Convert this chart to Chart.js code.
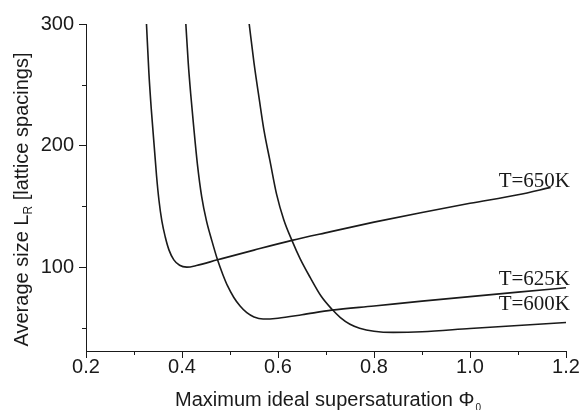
<!DOCTYPE html>
<html>
<head>
<meta charset="utf-8">
<script src="https://cdn.jsdelivr.net/npm/chart.js@4"></script>
<style>
  html, body { margin: 0; padding: 0; background: #fff; }
  #wrap { width: 586px; height: 410px; }
</style>
</head>
<body>
<div id="wrap"><canvas id="lineChart"></canvas></div>
<script>
// data
const phi650 = [0.326, 0.331, 0.336, 0.342, 0.347, 0.352, 0.358, 0.365, 0.373, 0.383, 0.395, 0.410, 0.430, 0.474, 0.550, 0.629, 0.708, 0.800, 0.900, 1.000, 1.100, 1.168];
const size650 = [300, 260, 230, 200, 175, 155, 138, 125, 114, 106, 101.5, 100, 101.3, 106, 114, 122, 129, 137, 145, 152.5, 159.5, 165.6];

const phi625 = [0.408, 0.413, 0.418, 0.424, 0.432, 0.441, 0.451, 0.462, 0.474, 0.485, 0.495, 0.508, 0.521, 0.535, 0.550, 0.569, 0.600, 0.650, 0.712, 0.800, 0.900, 1.000, 1.100, 1.200];
const size625 = [300, 268, 243, 217, 185, 158, 138, 122, 106, 94, 84.5, 75, 68, 62.5, 59, 57.3, 58, 60.8, 64.6, 68, 72, 75.7, 79.4, 83];

const phi600 = [0.540, 0.550, 0.561, 0.571, 0.583, 0.597, 0.612, 0.629, 0.646, 0.667, 0.690, 0.712, 0.730, 0.750, 0.770, 0.800, 0.840, 0.900, 1.000, 1.100, 1.200];
const size600 = [300, 268, 238, 212, 188, 160, 139, 122, 107, 91.5, 76, 65.5, 58.5, 53, 49.8, 47.3, 46.3, 46.8, 49.5, 52, 54.5];

const xMajor = [0.2, 0.4, 0.6, 0.8, 1.0, 1.2];
const xMinor = [0.3, 0.5, 0.7, 0.9, 1.1];
const yMajor = [100, 200, 300];
const yMinor = [50, 150, 250];

const seriesNames = ['T=650K', 'T=625K', 'T=600K'];
// where each curve label sits (data coords: right edge x, baseline y)
const labelX = [1.2, 1.2, 1.2];
const labelY = [166, 85, 64.5];

const ink = '#1a1a1a';
const sans = "'Liberation Sans', Arial, sans-serif";
const serif = "'Liberation Serif', 'Times New Roman', serif";

function pts(xs, ys) {
  return xs.map((x, i) => ({x: x, y: ys[i]}));
}

const minorTicks = {
  id: 'minorTicks',
  afterDraw(chart) {
    const c = chart.ctx, xs = chart.scales.x, ys = chart.scales.y;
    const a = chart.chartArea;
    c.save();
    c.strokeStyle = ink;
    c.lineWidth = 1;
    c.beginPath();
    xMinor.forEach(v => {
      const p = Math.round(xs.getPixelForValue(v)) + 0.5;
      c.moveTo(p, a.bottom); c.lineTo(p, a.bottom + 4);
    });
    yMinor.forEach(v => {
      const p = Math.round(ys.getPixelForValue(v)) + 0.5;
      c.moveTo(a.left, p); c.lineTo(a.left - 4, p);
    });
    c.stroke();

    // curve labels
    c.fillStyle = ink;
    c.font = '21px ' + serif;
    c.textAlign = 'right';
    c.textBaseline = 'alphabetic';
    seriesNames.forEach((n, i) => {
      c.fillText(n, xs.getPixelForValue(labelX[i]) + 4, ys.getPixelForValue(labelY[i]));
    });

    // x title with subscript
    c.textAlign = 'left';
    const xt = 'Maximum ideal supersaturation \u03A6';
    c.font = '20px ' + sans;
    const w1 = c.measureText(xt).width;
    c.font = '10px ' + sans;
    const w2 = c.measureText('0').width;
    let sx = (a.left + a.right) / 2 + 2 - (w1 + w2 + 1) / 2;
    c.font = '20px ' + sans;
    c.fillText(xt, sx, 406);
    c.font = '10px ' + sans;
    c.fillText('0', sx + w1 + 1, 411);

    // y title with subscript, rotated
    const yt1 = 'Average size L', yt2 = 'R', yt3 = ' [lattice spacings]';
    c.font = '20px ' + sans;
    const u1 = c.measureText(yt1).width, u3 = c.measureText(yt3).width;
    c.font = '12px ' + sans;
    const u2 = c.measureText(yt2).width;
    const total = u1 + u2 + u3;
    c.translate(28, (a.top + a.bottom) / 2 + 12);
    c.rotate(-Math.PI / 2);
    let tx = -total / 2;
    c.font = '20px ' + sans;
    c.fillText(yt1, tx, 0);
    c.font = '12px ' + sans;
    c.fillText(yt2, tx + u1, 4);
    c.font = '20px ' + sans;
    c.fillText(yt3, tx + u1 + u2, 0);
    c.restore();
  }
};

const mkSet = (name, xs, ys) => ({
  label: name,
  data: pts(xs, ys),
  borderColor: ink,
  borderWidth: 1.6,
  pointRadius: 0,
  fill: false,
  cubicInterpolationMode: 'monotone'
});

const config = {
  type: 'line',
  data: {
    datasets: [
      mkSet(seriesNames[0], phi650, size650),
      mkSet(seriesNames[1], phi625, size625),
      mkSet(seriesNames[2], phi600, size600)
    ]
  },
  options: {
    responsive: true,
    maintainAspectRatio: false,
    animation: false,
    layout: { padding: { top: 24, right: 20, left: 0, bottom: 0 } },
    plugins: { legend: { display: false }, tooltip: { enabled: false } },
    scales: {
      x: {
        type: 'linear',
        min: 0.2,
        max: 1.2,
        afterBuildTicks: s => { s.ticks = xMajor.map(v => ({value: v})); },
        afterFit: s => { s.height = 59; },
        grid: { drawOnChartArea: false, drawTicks: true, tickLength: 7, color: ink },
        border: { display: true, color: ink, width: 1 },
        ticks: {
          color: ink,
          font: { family: sans, size: 20 },
          padding: -3,
          maxRotation: 0,
          callback: v => Number(v).toFixed(1)
        }
      },
      y: {
        type: 'linear',
        min: 31,
        max: 300,
        afterBuildTicks: s => { s.ticks = yMajor.map(v => ({value: v})); },
        afterFit: s => { s.width = 86; },
        grid: { drawOnChartArea: false, drawTicks: true, tickLength: 7, color: ink },
        border: { display: true, color: ink, width: 1 },
        ticks: {
          color: ink,
          font: { family: sans, size: 20 },
          padding: 5,
          callback: v => String(v)
        }
      }
    }
  },
  plugins: [minorTicks]
};

new Chart(document.getElementById('lineChart'), config);
</script>
</body>
</html>
